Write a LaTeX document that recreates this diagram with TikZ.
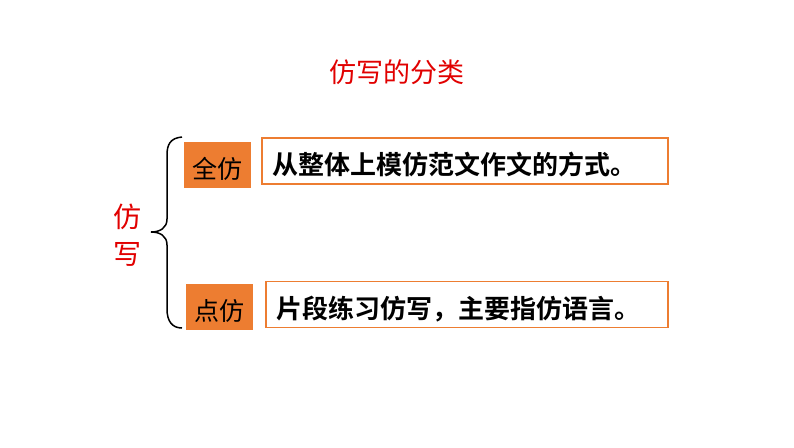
\documentclass[tikz,border=0pt]{standalone}
\usepackage{fontspec}
\setmainfont{Noto Sans CJK SC}
\newfontfamily\heavyfont{Noto Sans CJK SC Bold}
\usetikzlibrary{positioning}
\definecolor{tagorange}{RGB}{237,125,49}
\definecolor{titlered}{RGB}{225,0,0}

\begin{document}
\begin{tikzpicture}[x=1pt,y=-1pt]
    \tikzset{tag/.style = {fill=tagorange, inner sep=0pt, minimum width=67pt, minimum height=46pt,
        text height=27pt, text depth=0pt, font=\fontsize{25}{25}\selectfont}}
    \tikzset{defbox/.style = {draw=tagorange, line width=1.8pt, fill=white, inner ysep=0pt, inner xsep=10pt,
        minimum height=46pt, align=left, text height=27pt, text depth=0pt,
        font=\heavyfont\fontsize{26}{26}\selectfont}}
    \useasboundingbox (0,0) rectangle (794,447);
    % title
    \node[text=titlered, font=\fontsize{27}{27}\selectfont] (title) at (397,72) {仿写的分类};
    % nodes
    \node[text=titlered, align=center, font=\fontsize{28}{37}\selectfont] (root) at (127,235) {仿\\写};
    \node[tag] (whole) at (217,165) {全仿};
    \node[tag] (part) at (219,307) {点仿};
    \node[defbox, text width=386pt] (wholedef) at (465,161) {从整体上模仿范文作文的方式。};
    \node[defbox, text width=382pt] (partdef) at (467,304.5) {片段练习仿写，主要指仿语言。};
    % brace
    \coordinate (bracetop) at (182,137);
    \coordinate (bracetip) at (151,232);
    \coordinate (bracebot) at (182,328);
    \draw[line width=1.5pt] (bracetop) .. controls (170,138) and (167,145) .. (167,155) -- (167,219)
        .. controls (167,228) and (160,232) .. (bracetip)
        .. controls (160,232) and (167,236) .. (167,245) -- (167,309)
        .. controls (167,321) and (172,328) .. (bracebot);
\end{tikzpicture}
\end{document}
